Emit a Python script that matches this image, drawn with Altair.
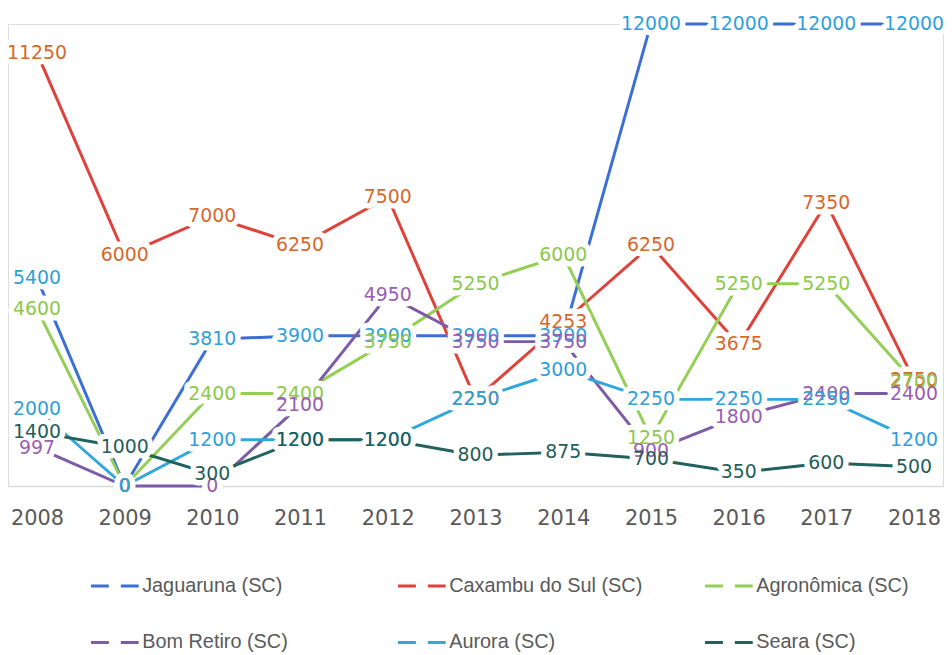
import altair as alt
import pandas as pd

years = [2008, 2009, 2010, 2011, 2012, 2013, 2014, 2015, 2016, 2017, 2018]
series = ["Jaguaruna (SC)", "Caxambu do Sul (SC)", "Agronômica (SC)",
          "Bom Retiro (SC)", "Aurora (SC)", "Seara (SC)"]
jaguaruna = [5400, 0, 3810, 3900, 3900, 3900, 3900, 12000, 12000, 12000, 12000]
caxambu = [11250, 6000, 7000, 6250, 7500, 2250, 4253, 6250, 3675, 7350, 2750]
agronomica = [4600, 0, 2400, 2400, 3750, 5250, 6000, 1250, 5250, 5250, 2700]
bom_retiro = [997, 0, 0, 2100, 4950, 3750, 3750, 900, 1800, 2400, 2400]
aurora = [2000, 0, 1200, 1200, 1200, 2250, 3000, 2250, 2250, 2250, 1200]
seara = [1400, 1000, 300, 1200, 1200, 800, 875, 700, 350, 600, 500]

line_colors = ["#3b6fd6", "#e0413a", "#93cf55", "#7d5ba6", "#31a7de", "#1f625e"]
label_colors = ["#2f9fd8", "#d6682c", "#8cc84b", "#9a5db3", "#2f9fd8", "#1f5e5a"]

values = [jaguaruna, caxambu, agronomica, bom_retiro, aurora, seara]
rows = []
for i, (name, vals) in enumerate(zip(series, values)):
    for y, v in zip(years, vals):
        rows.append({"year": str(y), "value": v, "series": name,
                     "order": i, "lcolor": label_colors[i]})
df = pd.DataFrame(rows)

FONT = "DejaVu Sans"

x_enc = alt.X("year:O", scale=alt.Scale(type="point", padding=0.33),
              axis=alt.Axis(title=None, labelAngle=0, ticks=False,
                            domainColor="#d9d9d9", domainWidth=1.5,
                            labelFontSize=21, labelColor="#595959",
                            labelFont=FONT, labelPadding=22))
y_enc = alt.Y("value:Q", scale=alt.Scale(domain=[0, 12000], nice=False, zero=True),
              axis=None)

base = alt.Chart(df)

lines = base.mark_line(strokeWidth=3).encode(
    x=x_enc, y=y_enc,
    color=alt.Color("series:N",
                    scale=alt.Scale(domain=series, range=line_colors),
                    sort=series,
                    legend=alt.Legend(
                        title=None, orient="none", legendX=82, legendY=540,
                        direction="horizontal",
                        columns=3, gridAlign="all", columnPadding=56,
                        rowPadding=21, labelLimit=400,
                        symbolType="M-1,0L1,0", symbolSize=2304,
                        symbolStrokeWidth=3, symbolDash=[18, 12],
                        labelFontSize=20, labelColor="#595959",
                        labelFont="Liberation Sans",
                        labelOffset=2)),
    order=alt.Order("order:Q"),
)

halo = base.mark_text(fontSize=19, font=FONT, stroke="white", strokeWidth=11,
                      fill="white", strokeJoin="round").encode(
    x=x_enc, y=y_enc, text=alt.Text("value:Q", format="d"),
    order=alt.Order("order:Q"))

labels = base.mark_text(fontSize=19, font=FONT).encode(
    x=x_enc, y=y_enc, text=alt.Text("value:Q", format="d"),
    color=alt.Color("lcolor:N", scale=None),
    order=alt.Order("order:Q"))

chart = alt.layer(lines, halo, labels).properties(
    width=941, height=465,
    autosize=alt.AutoSizeParams(type="none"),
    padding={"left": 0, "top": 14, "right": 1, "bottom": 166},
).configure_view(stroke=None).configure(background="white")

chart.save("out.html", embed_options={"renderer": "svg", "actions": False})
